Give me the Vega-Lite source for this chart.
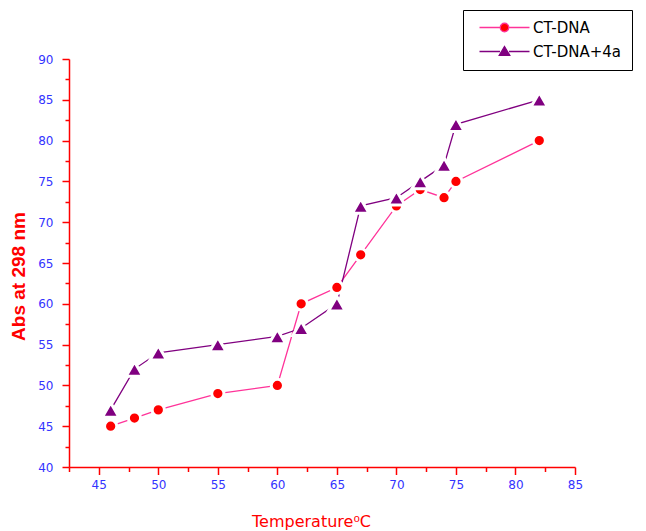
{
  "$schema": "https://vega.github.io/schema/vega-lite/v6.json",
  "width": 506,
  "height": 408,
  "autosize": {"type": "none"},
  "padding": {"left": 69, "top": 59, "right": 71, "bottom": 64},
  "background": "white",
  "config": {"view": {"stroke": null}, "axis": {"grid": false},
    "legend": {"title": null, "orient": "none", "legendX": 394, "legendY": -49, "padding": 10,
      "strokeColor": "#000000", "fillColor": "#ffffff", "symbolSize": 100, "symbolStrokeWidth": 1.3,
      "labelFont": "DejaVu Sans", "labelFontSize": 15, "labelColor": "#000000", "labelOffset": 45, "rowPadding": 7}},
  "data": {"values": [
    {"series": "CT-DNA", "temp": 46, "abs": 45},
    {"series": "CT-DNA", "temp": 48, "abs": 46},
    {"series": "CT-DNA", "temp": 50, "abs": 47},
    {"series": "CT-DNA", "temp": 55, "abs": 49},
    {"series": "CT-DNA", "temp": 60, "abs": 50},
    {"series": "CT-DNA", "temp": 62, "abs": 60},
    {"series": "CT-DNA", "temp": 65, "abs": 62},
    {"series": "CT-DNA", "temp": 67, "abs": 66},
    {"series": "CT-DNA", "temp": 70, "abs": 72},
    {"series": "CT-DNA", "temp": 72, "abs": 74},
    {"series": "CT-DNA", "temp": 74, "abs": 73},
    {"series": "CT-DNA", "temp": 75, "abs": 75},
    {"series": "CT-DNA", "temp": 82, "abs": 80},
    {"series": "CT-DNA+4a", "temp": 46, "abs": 47},
    {"series": "CT-DNA+4a", "temp": 48, "abs": 52},
    {"series": "CT-DNA+4a", "temp": 50, "abs": 54},
    {"series": "CT-DNA+4a", "temp": 55, "abs": 55},
    {"series": "CT-DNA+4a", "temp": 60, "abs": 56},
    {"series": "CT-DNA+4a", "temp": 62, "abs": 57},
    {"series": "CT-DNA+4a", "temp": 65, "abs": 60},
    {"series": "CT-DNA+4a", "temp": 67, "abs": 72},
    {"series": "CT-DNA+4a", "temp": 70, "abs": 73},
    {"series": "CT-DNA+4a", "temp": 72, "abs": 75},
    {"series": "CT-DNA+4a", "temp": 74, "abs": 77},
    {"series": "CT-DNA+4a", "temp": 75, "abs": 82},
    {"series": "CT-DNA+4a", "temp": 82, "abs": 85}
  ]},
  "resolve": {"axis": {"x": "independent", "y": "independent"}},
  "layer": [
    {
      "mark": {"type": "line", "strokeWidth": 1.3},
      "encoding": {
        "x": {"field": "temp", "type": "quantitative",
          "scale": {"domain": [42.5, 85], "nice": false, "zero": false},
          "axis": {"orient": "bottom", "values": [45, 50, 55, 60, 65, 70, 75, 80, 85],
            "domainColor": "#ff0000", "domainWidth": 1.5, "tickColor": "#ff0000", "tickWidth": 1.5, "tickSize": 7.5,
            "labelColor": "#3333ff", "labelFont": "DejaVu Sans", "labelFontSize": 12, "labelPadding": 5,
            "labelFlush": false, "labelOverlap": false,
            "title": "Temperature⁰C", "titleColor": "#ff0000", "titleFont": "DejaVu Sans", "titleFontSize": 16,
            "titleFontWeight": "normal", "titleX": 242, "titleY": 46}},
        "y": {"field": "abs", "type": "quantitative",
          "scale": {"domain": [40, 90], "nice": false, "zero": false},
          "axis": {"orient": "left", "values": [40, 45, 50, 55, 60, 65, 70, 75, 80, 85, 90],
            "domainColor": "#ff0000", "domainWidth": 1.5, "tickColor": "#ff0000", "tickWidth": 1.5, "tickSize": 7,
            "labelColor": "#3333ff", "labelFont": "DejaVu Sans", "labelFontSize": 12, "labelPadding": 9,
            "labelFlush": false, "labelOverlap": false,
            "title": "Abs at 298 nm", "titleColor": "#ff0000", "titleFont": "Liberation Sans", "titleFontSize": 19,
            "titleFontWeight": "bold", "titleX": -41, "titleY": 217}},
        "stroke": {"field": "series", "type": "nominal",
          "scale": {"domain": ["CT-DNA", "CT-DNA+4a"], "range": ["#ff3399", "#800080"]}}
      }
    },
    {
      "transform": [{"filter": "datum.series == 'CT-DNA'"}],
      "mark": {"type": "point", "shape": "circle", "filled": true, "fill": "#ff0000", "stroke": "white", "strokeWidth": 3, "size": 150, "opacity": 1},
      "encoding": {
        "x": {"field": "temp", "type": "quantitative", "axis": null},
        "y": {"field": "abs", "type": "quantitative", "axis": null}
      }
    },
    {
      "transform": [{"filter": "datum.series == 'CT-DNA+4a'"}],
      "mark": {"type": "point", "shape": "triangle-up", "filled": true, "fill": "#800080", "stroke": "white", "strokeWidth": 3, "size": 280, "opacity": 1},
      "encoding": {
        "x": {"field": "temp", "type": "quantitative", "axis": null},
        "y": {"field": "abs", "type": "quantitative", "axis": null}
      }
    },
    {
      "mark": {"type": "point", "opacity": 0},
      "encoding": {
        "x": {"field": "temp", "type": "quantitative",
          "axis": {"orient": "bottom", "values": [42.5, 47.5, 52.5, 57.5, 62.5, 67.5, 72.5, 77.5, 82.5],
            "domain": false, "labels": false, "title": null, "tickColor": "#ff0000", "tickWidth": 1.5, "tickSize": 4.5}},
        "y": {"field": "abs", "type": "quantitative",
          "axis": {"orient": "left", "values": [42.5, 47.5, 52.5, 57.5, 62.5, 67.5, 72.5, 77.5, 82.5, 87.5],
            "domain": false, "labels": false, "title": null, "tickColor": "#ff0000", "tickWidth": 1.5, "tickSize": 4}}
      }
    },
    {
      "mark": {"type": "point", "filled": true, "opacity": 1, "size": 0},
      "encoding": {
        "x": {"field": "temp", "type": "quantitative", "axis": null},
        "y": {"field": "abs", "type": "quantitative", "axis": null},
        "color": {"field": "series", "type": "nominal",
          "scale": {"domain": ["CT-DNA", "CT-DNA+4a"], "range": ["#ff0000", "#800080"]}},
        "shape": {"field": "series", "type": "nominal",
          "scale": {"domain": ["CT-DNA", "CT-DNA+4a"],
            "range": ["M-0.2,0H3.9 M5.7,0H9.8 M3.95,0A0.85,0.85 0 1,1 5.65,0A0.85,0.85 0 1,1 3.95,0Z",
                      "M-0.2,0H3.9 M5.7,0H9.8 M4.8,-1.0L5.85,0.75L3.75,0.75Z"]}}
      }
    }
  ]
}
